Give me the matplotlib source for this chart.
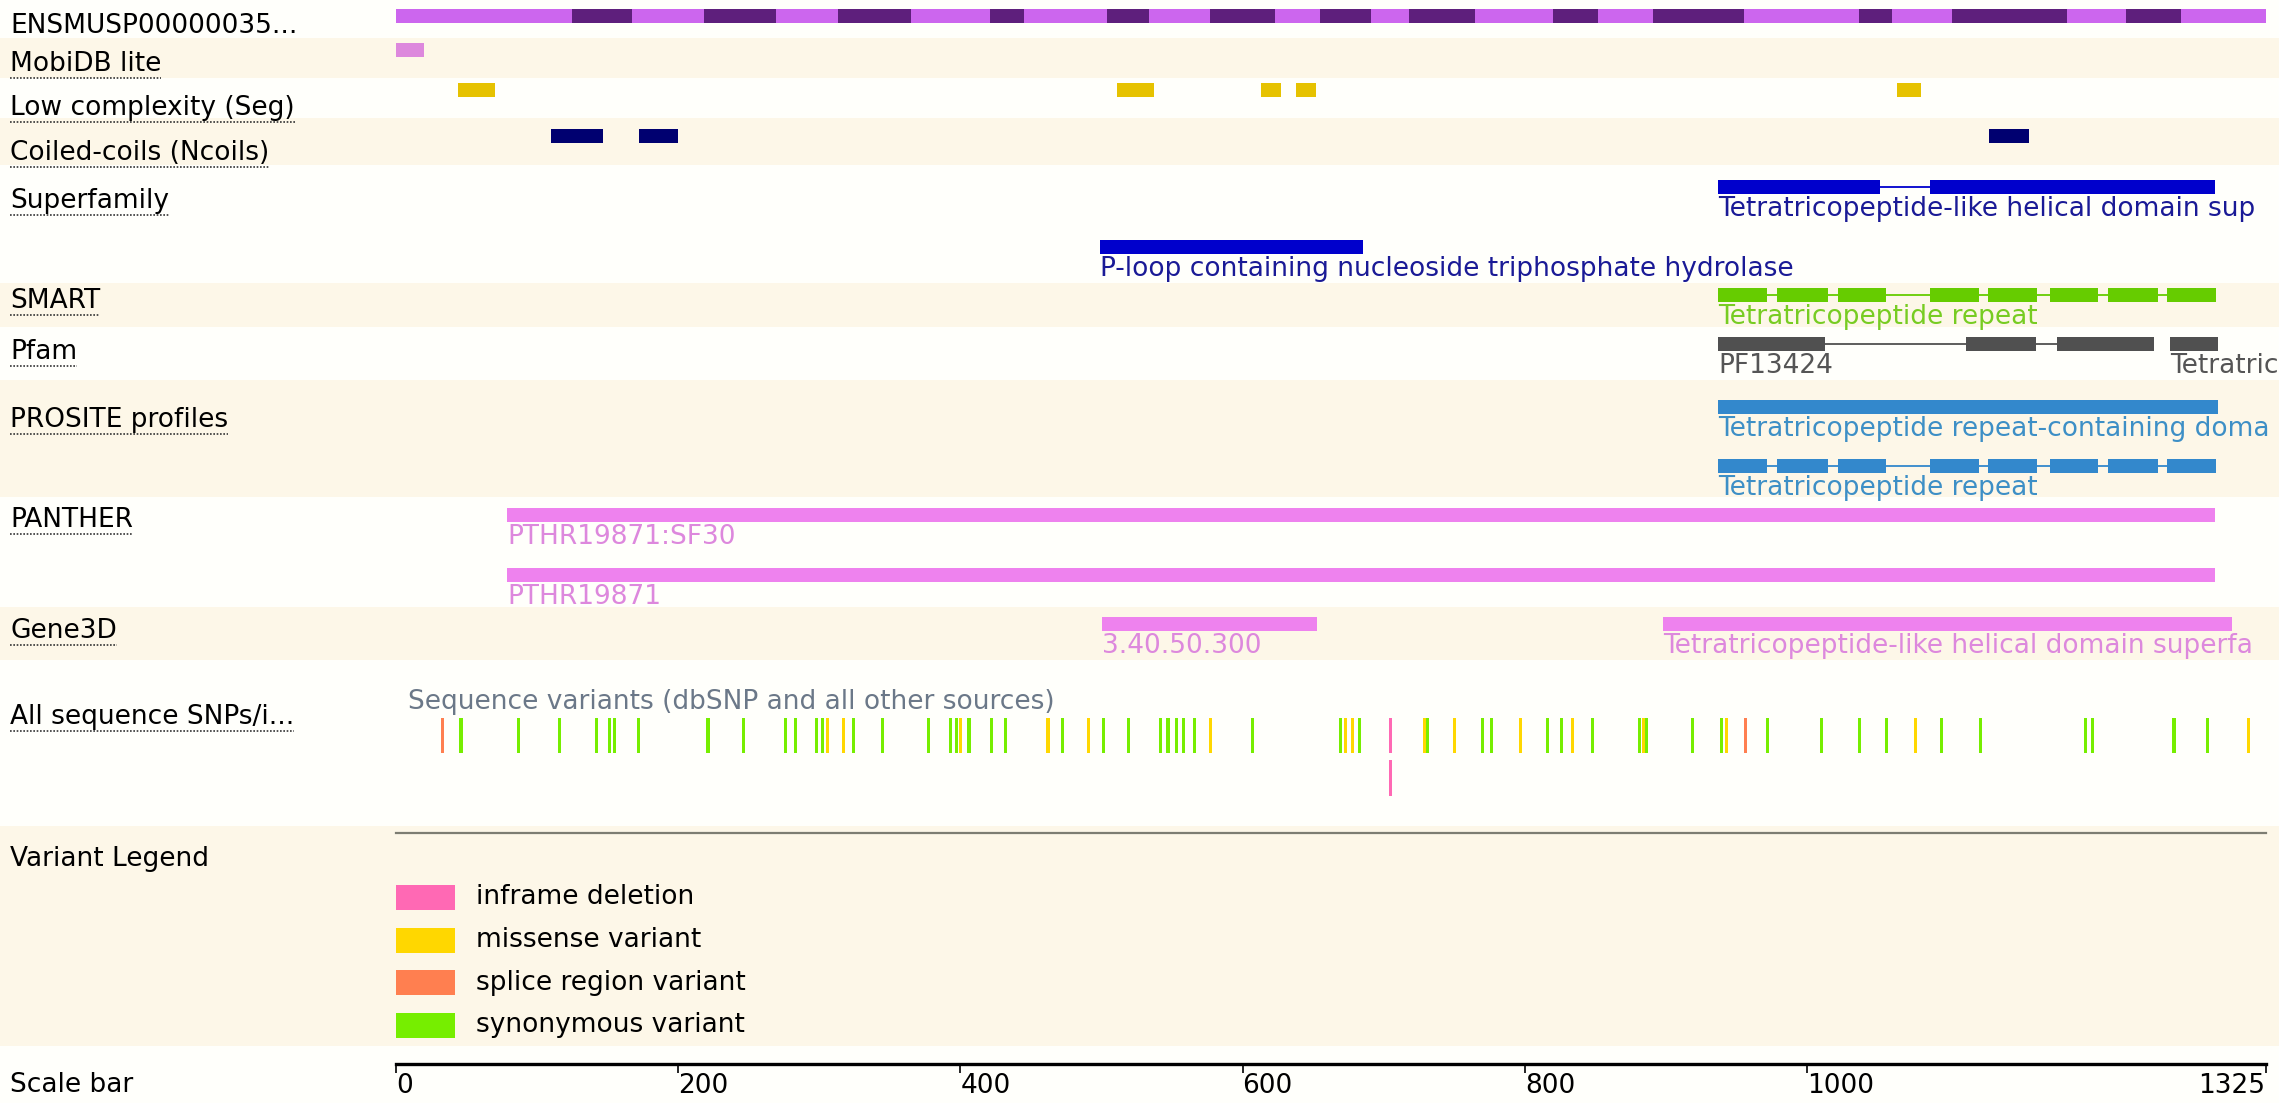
import matplotlib
matplotlib.use("Agg")
import matplotlib.pyplot as plt
from matplotlib.transforms import blended_transform_factory
from matplotlib.lines import Line2D

# ---- data (residue positions, protein length 1325) ----
protein_id = "ENSMUSP00000035..."
protein_len = 1325
exon_bounds = [0, 125, 167, 218, 269, 313, 365, 421, 445, 504, 534, 577, 623, 655,
               691, 718, 765, 820, 852, 891, 955, 1037, 1060, 1103, 1184, 1226, 1265, 1325]

mobidb = [(0, 20)]
low_complexity = [(44, 70), (511, 537), (613, 627), (638, 652), (1064, 1081)]
coiled_coils = [(110, 147), (172, 200), (1129, 1157)]

# labels running off the right edge are kept as far as the picture shows them
sf_tpr = [(937, 1052), (1087, 1289)]
sf_tpr_label = "Tetratricopeptide-like helical domain sup"
sf_ploop = [(499, 685)]
sf_ploop_label = "P-loop containing nucleoside triphosphate hydrolase"

tpr_repeats = [(937, 972), (979, 1015), (1022, 1056), (1087, 1122),
               (1128, 1163), (1172, 1206), (1213, 1249), (1255, 1290)]
tpr_repeat_label = "Tetratricopeptide repeat"

pfam_pf13424 = [(937, 1013), (1113, 1162), (1177, 1246)]
pfam_tpr = [(1257, 1291)]
pfam_tpr_label = "Tetratric"

prosite_domain = [(937, 1291)]
prosite_domain_label = "Tetratricopeptide repeat-containing doma"

panther_sf30 = [(79, 1289)]
panther_fam = [(79, 1289)]

gene3d_ploop = [(500, 653)]
gene3d_tpr = [(898, 1301)]
gene3d_tpr_label = "Tetratricopeptide-like helical domain superfa"

synonymous = [46, 87, 116, 142, 151, 155, 172, 221, 246, 276, 283, 298, 302, 324, 345,
              377, 393, 397, 406, 422, 432, 472, 501, 519, 542, 547, 553, 558, 566, 607,
              669, 683, 731, 770, 776, 816, 826, 848, 881, 886, 919, 939, 972, 1010,
              1037, 1056, 1095, 1123, 1197, 1202, 1260, 1284]
missense = [306, 317, 400, 462, 491, 577, 673, 678, 729, 750, 797, 834, 884, 943,
            1077, 1313]
splice = [33, 956]
inframe_del = [705]

legend_names = ["inframe deletion", "missense variant", "splice region variant",
                "synonymous variant"]
legend_colors = ["#ff69b4", "#ffd700", "#ff7f50", "#76ee00"]

scale_ticks = [0, 200, 400, 600, 800, 1000, 1325]

# ---- figure: one axes over the whole canvas, x in residues, y in pixel rows ----
W, H = 2279, 1103
X0, PPR = 396, 1.411          # track start (px) and pixels per residue
fig = plt.figure(figsize=(W / 100, H / 100), dpi=100)
ax = fig.add_axes([0, 0, 1, 1])
ax.set_xlim(-X0 / PPR, (W - X0) / PPR)
ax.set_ylim(H, 0)
ax.axis("off")
lab = blended_transform_factory(ax.transAxes, ax.transData)

FS = 19
cream, white = "#fdf7e8", "#fffffb"
bands = [(0, 38, white), (38, 78, cream), (78, 118, white), (118, 165, cream),
         (165, 283, white), (283, 327, cream), (327, 380, white), (380, 497, cream),
         (497, 607, white), (607, 660, cream), (660, 826, white), (826, 1046, cream),
         (1046, 1103, white)]
for y0, y1, c in bands:
    ax.axhspan(y0, y1, color=c, lw=0, zorder=0)


def draw_feature(segs, y, color, label=None, lcolor=None, join=True, h=14):
    ax.broken_barh([(s, e - s) for s, e in segs], (y, h), facecolors=color, zorder=3)
    if join:
        for (s1, e1), (s2, e2) in zip(segs[:-1], segs[1:]):
            ax.plot([e1, s2], [y + h / 2, y + h / 2], color=color, lw=1.3, zorder=2)
    if label:
        ax.text(segs[0][0], y + h + 2, label, color=lcolor or color, fontsize=FS,
                va="top", ha="left", zorder=4)


# protein exon bar
segs = list(zip(exon_bounds[:-1], exon_bounds[1:]))
cols = ["#cc66ee" if i % 2 == 0 else "#5e1f7c" for i in range(len(segs))]
ax.broken_barh([(s, e - s) for s, e in segs], (9, 14), facecolors=cols, zorder=3)

draw_feature(mobidb, 43, "#dd88dd")
draw_feature(low_complexity, 83, "#e6c200", join=False)
draw_feature(coiled_coils, 129, "#000070", join=False)
draw_feature(sf_tpr, 180, "#0000cc", sf_tpr_label, "#1a1a96")
draw_feature(sf_ploop, 240, "#0000cc", sf_ploop_label, "#1a1a96")
draw_feature(tpr_repeats, 288, "#66cc00", tpr_repeat_label, "#77cc22")
draw_feature(pfam_pf13424, 337, "#505050", "PF13424", "#555555")
draw_feature(pfam_tpr, 337, "#505050", pfam_tpr_label, "#555555")
draw_feature(prosite_domain, 400, "#3388cc", prosite_domain_label, "#3d8fc6")
draw_feature(tpr_repeats, 459, "#3388cc", tpr_repeat_label, "#3d8fc6")
draw_feature(panther_sf30, 508, "#ee82ee", "PTHR19871:SF30", "#dd88dd")
draw_feature(panther_fam, 568, "#ee82ee", "PTHR19871", "#dd88dd")
draw_feature(gene3d_ploop, 617, "#ee82ee", "3.40.50.300", "#dd88dd")
draw_feature(gene3d_tpr, 617, "#ee82ee", gene3d_tpr_label, "#dd88dd")

# variants
ax.text(8.5, 702, "Sequence variants (dbSNP and all other sources)", color="#6b7888",
        fontsize=FS, va="center", ha="left", zorder=4)
for pos_list, c in [(synonymous, "#76ee00"), (missense, "#ffd700"),
                    (splice, "#ff7f50"), (inframe_del, "#ff69b4")]:
    ax.broken_barh([(p - 1, 2.2) for p in pos_list], (718, 35), facecolors=c, zorder=3)
ax.broken_barh([(p - 1, 2.2) for p in inframe_del], (760, 36), facecolors="#ff69b4",
               zorder=3)

ax.plot([0, protein_len], [833, 833], color="#7d7d72", lw=1.6, zorder=3)

# legend
for i, (name, c) in enumerate(zip(legend_names, legend_colors)):
    y = 885 + i * 42.5
    ax.broken_barh([(0, 42)], (y, 25), facecolors=c, zorder=3)
    ax.text(57, y + 12.5, name, fontsize=FS, va="center", ha="left", zorder=4)

# scale bar
ax.plot([0, protein_len], [1064, 1064], color="black", lw=2.4, zorder=3)
ax.vlines(scale_ticks, 1064, 1073, color="black", lw=1.2, zorder=3)
for t in scale_ticks:
    ax.text(t, 1073, str(t), fontsize=FS, va="top",
            ha="right" if t == protein_len else "left", zorder=4)

# row labels
rows = [(protein_id, 26, False), ("MobiDB lite", 64, True),
        ("Low complexity (Seg)", 108, True), ("Coiled-coils (Ncoils)", 153, True),
        ("Superfamily", 201, True), ("SMART", 301, True), ("Pfam", 352, True),
        ("PROSITE profiles", 420, True), ("PANTHER", 520, True), ("Gene3D", 631, True),
        ("All sequence SNPs/i...", 717, True), ("Variant Legend", 859, False),
        ("Scale bar", 1085, False)]
texts = []
for name, y, ul in rows:
    t = ax.text(10 / W, y, name, transform=lab, fontsize=FS, va="center", ha="left",
                zorder=4)
    texts.append((t, ul))

fig.canvas.draw()
r = fig.canvas.get_renderer()
inv = fig.transFigure.inverted()
for t, ul in texts:
    if not ul:
        continue
    bb = t.get_window_extent(r)
    (x0, y0), (x1, _) = inv.transform([(bb.x0, bb.y0 - 1), (bb.x1, bb.y0 - 1)])
    fig.add_artist(Line2D([x0, x1], [y0, y0], transform=fig.transFigure,
                          color="#333333", lw=1.2, ls=(0, (1, 1))))

fig.savefig("out.png", dpi=100, facecolor="white")
